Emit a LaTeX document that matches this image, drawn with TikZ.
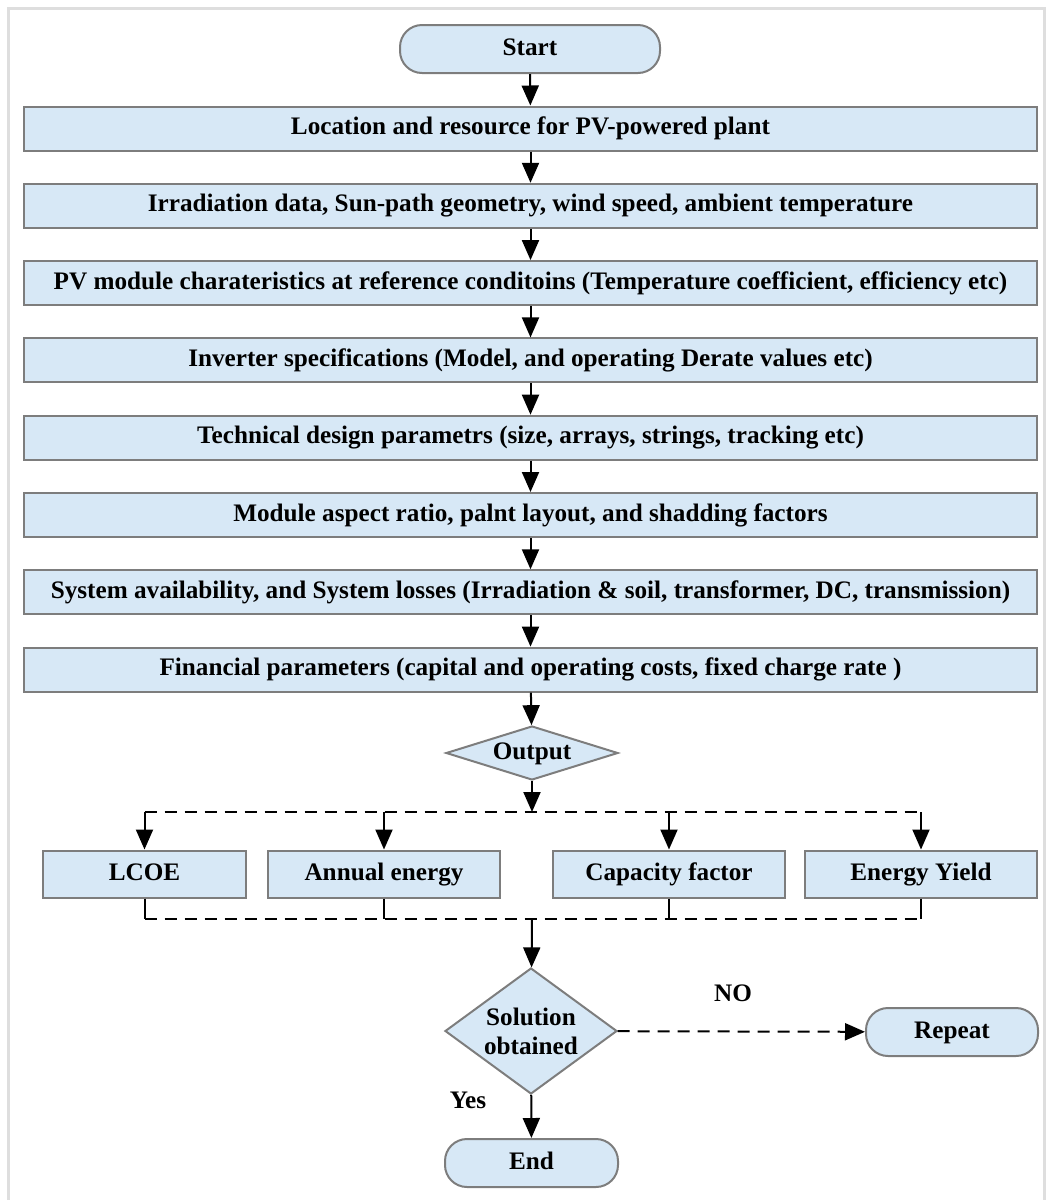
\documentclass[tikz,border=0pt]{standalone}
\usepackage{fontspec}
\setmainfont{Liberation Serif}
\usetikzlibrary{arrows.meta,shapes.geometric,positioning}
\definecolor{boxblue}{RGB}{215,232,246}
\definecolor{boxline}{RGB}{125,125,125}
\definecolor{framegray}{RGB}{222,222,222}
\def\rowsep{77.3}

\begin{document}
\begin{tikzpicture}[x=0.5pt,y=-0.5pt,>={Triangle[length=10pt,width=8.5pt]},
    font=\fontsize{12.6}{14.5}\selectfont\bfseries]
    \tikzstyle{box}=[draw=boxline,fill=boxblue,line width=1pt,inner sep=0pt,align=center,
        text height=8.6pt,text depth=2.6pt]
    \tikzstyle{stepbox}=[box,minimum width=506.5pt,minimum height=22pt]
    \tikzstyle{resultbox}=[box,minimum width=116pt,minimum height=23.5pt]
    \tikzstyle{terminal}=[box,rounded corners=11pt,minimum width=130pt,minimum height=24pt]
    \tikzstyle{decision}=[box,diamond,minimum width=86pt,minimum height=27pt]
    \tikzstyle{arrow}=[->,line width=1pt]
    \tikzstyle{dashline}=[line width=1pt,dash pattern=on 6pt off 4pt]
    \tikzstyle{annot}=[inner sep=0pt]

    \useasboundingbox (0,0) rectangle (1048,1200);
    \draw[framegray,line width=1.5pt] (8,1200) -- (8,8) -- (1044,8) -- (1044,1200);

    % Draw the start node
    \node[terminal] (start) at (530,49) {Start};

    % Draw the input steps, one under the other
    \foreach \txt [count=\i] in {{Location and resource for PV-powered  plant},
        {Irradiation data, Sun-path geometry, wind speed, ambient temperature},
        {PV module charateristics at reference conditoins (Temperature coefficient, efficiency etc)},
        {Inverter specifications (Model, and operating Derate values etc)},
        {Technical design parametrs (size, arrays, strings, tracking etc)},
        {Module aspect ratio, palnt layout, and shadding factors},
        {System availability, and System losses (Irradiation \& soil, transformer, DC, transmission)},
        {Financial parameters (capital and operating costs, fixed charge rate )}}
        \node[stepbox] (S-\i) at (530.5,51.2+\rowsep*\i) {\txt};

    % Draw the output and the results
    \node[decision,shape aspect=3] (out) at (532,753) {Output};
    \coordinate (J-top) at (532,812);
    \node[resultbox,minimum width=101.5pt] (R-1) at (144.5,874) {LCOE};
    \node[resultbox] (R-2) at (384,874) {Annual energy};
    \node[resultbox] (R-3) at (669,874) {Capacity factor};
    \node[resultbox] (R-4) at (921,874) {Energy Yield};
    \coordinate (J-bot) at (532,919);

    % Draw the check and the end
    \node[decision,shape aspect=1.4,minimum height=63pt,text height=,text depth=]
        (sol) at (531,1031) {Solution\\obtained};
    \node[terminal,minimum width=86pt] (repeat) at (952,1032) {Repeat};
    \node[terminal,minimum width=86.5pt] (end) at (531.5,1163) {End};
    \node[annot] (no) at (733,993) {NO};
    \node[annot] (yes) at (468,1100) {Yes};

    % Connect the steps
    \draw[arrow] (start) -- (S-1);
    \foreach \i [evaluate=\i as \j using int(\i+1)] in {1,...,7}
        \draw[arrow] (S-\i) -- (S-\j);
    \draw[arrow] (S-8) -- (out);

    % Split to the results and join them again
    \draw[arrow] (out) -- (J-top);
    \draw[dashline] (R-1.north |- J-top) -- (R-4.north |- J-top);
    \foreach \i in {1,...,4}
        \draw[arrow] (R-\i.north |- J-top) -- (R-\i.north);
    \foreach \i in {1,...,4}
        \draw[line width=1pt] (R-\i.south) -- (R-\i.south |- J-bot);
    \draw[dashline] (R-1.south |- J-bot) -- (R-4.south |- J-bot);
    \draw[arrow] (J-bot) -- (sol);

    \draw[arrow,dash pattern=on 6pt off 4pt] (sol) -- (repeat);
    \draw[arrow] (sol) -- (end);
\end{tikzpicture}
\end{document}
